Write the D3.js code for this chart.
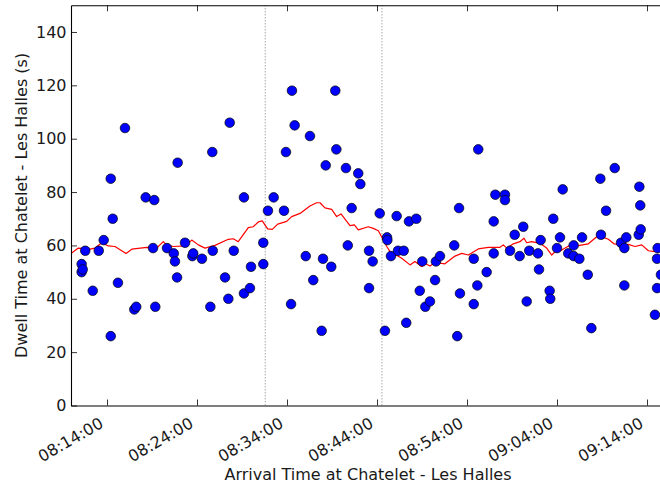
<!DOCTYPE html>
<html>
<head>
<meta charset="utf-8">
<script src="https://cdn.jsdelivr.net/npm/d3@7"></script>
<style>
  html, body { margin: 0; padding: 0; background: #fff; }
  svg { display: block; font-family: "DejaVu Sans", sans-serif; }
</style>
</head>
<body>
<svg id="chart" width="660" height="486"></svg>
<script>
// ---- data ----
const pointTimes = [
  "08:09:30","08:11:11","08:11:11","08:11:18","08:11:35","08:12:25","08:13:05","08:13:38","08:14:25","08:14:25",
  "08:14:38","08:15:13","08:16:00","08:17:02","08:17:15","08:18:18","08:19:07","08:19:15","08:19:22","08:20:40",
  "08:21:25","08:21:33","08:21:47","08:21:51","08:22:40","08:23:29","08:23:35","08:24:33","08:25:29","08:25:42",
  "08:25:45","08:27:07","08:27:29","08:27:38","08:28:05","08:29:13","08:29:13","08:29:53","08:30:00","08:31:22",
  "08:31:22","08:31:53","08:32:31","08:33:40","08:33:53","08:34:27","08:34:33","08:34:51","08:36:05","08:36:33",
  "08:36:55","08:37:51","08:38:00","08:38:18","08:38:55","08:39:22","08:39:29","08:40:33","08:40:45","08:41:11",
  "08:41:55","08:42:09","08:43:07","08:43:07","08:43:31","08:44:18","08:44:53","08:45:07","08:45:09","08:45:33",
  "08:46:11","08:46:20","08:46:58","08:47:15","08:47:33","08:48:22","08:48:45","08:49:02","08:49:22","08:49:53",
  "08:50:27","08:50:33","08:51:00","08:52:35","08:52:55","08:53:07","08:53:13","08:54:45","08:54:45","08:55:09",
  "08:55:15","08:56:11","08:56:58","08:56:58","08:57:09","08:58:13","08:58:13","08:58:47","08:59:18","08:59:51",
  "09:00:15","09:00:38","09:00:55","09:01:53","09:02:00","09:02:11","09:03:11","09:03:15","09:03:35","09:04:00",
  "09:04:20","09:04:38","09:05:15","09:05:51","09:05:51","09:06:29","09:06:47","09:07:25","09:07:49","09:08:49",
  "09:08:53","09:09:27","09:10:25","09:11:07","09:11:29","09:11:29","09:11:42","09:13:05","09:13:09","09:13:15",
  "09:13:18","09:14:53","09:15:07","09:15:07","09:15:11","09:15:33"
];
const dwellValues = [
  91,50,53,51,58,43,58,62,85,26,
  70,46,104,36,37,78,59,77,37,59,
  57,54,48,91,61,56,57,55,37,95,
  58,48,40,106,58,78,42,44,52,61,
  53,73,78,73,95,38,118,105,56,101,
  47,28,55,90,52,118,96,89,60,74,
  87,83,58,44,54,72,28,63,62,56,
  71,58,58,31,69,70,43,54,37,39,
  47,54,56,60,26,74,42,55,38,45,
  96,50,69,57,79,79,77,58,64,56,
  67,39,58,57,51,62,43,40,70,59,
  63,81,57,60,56,55,63,49,29,85,
  64,73,89,61,59,45,63,64,82,75,
  66,34,55,44,59,49
];
const rollTimes = [
  "08:10:00","08:10:49","08:12:07","08:12:40","08:13:25","08:14:09","08:14:53","08:16:07","08:16:45","08:18:25",
  "08:19:31","08:20:15","08:20:38","08:21:22","08:22:40","08:23:25","08:24:09","08:24:53","08:26:00","08:27:29",
  "08:28:02","08:28:35","08:29:42","08:30:15","08:30:49","08:31:15","08:31:51","08:32:22","08:32:58","08:33:58",
  "08:34:31","08:35:27","08:36:33","08:37:18","08:37:40","08:38:13","08:38:58","08:39:31","08:40:00","08:41:00",
  "08:41:29","08:41:55","08:43:02","08:43:35","08:44:09","08:45:05","08:45:27","08:46:45","08:47:40","08:48:13",
  "08:48:58","08:49:25","08:49:53","08:50:27","08:51:33","08:52:40","08:53:25","08:54:09","08:55:15","08:56:22",
  "08:57:40","08:58:02","08:58:25","08:59:09","08:59:53","09:00:20","09:00:38","09:01:11","09:02:07","09:02:51",
  "09:03:25","09:03:47","09:04:20","09:05:38","09:06:22","09:07:29","09:08:35","09:08:58","09:09:42","09:10:20",
  "09:11:00","09:11:55","09:12:40","09:13:25","09:14:09","09:14:53","09:15:27","09:16:00"
];
const rollValues = [
  57,59,58.6,59,61,59.8,59.6,57,58.6,59.3,
  59,61.4,60.2,59.6,59.8,62,60.2,59,60,62.3,
  62.5,61.4,66.7,67,68.8,69.2,66.2,66,68,69,
  70.8,72,74.8,76,76,74.1,73.5,70.8,71.8,67.4,
  67.7,65.8,67,66.4,65.5,59.6,57.7,55.2,52.7,54,
  52.1,53.1,52.3,53.6,53.1,56,57,56.4,58.7,59.3,
  59.3,60.2,59,60.6,61.4,62.7,61,61.4,60.8,59,
  56.4,57.7,57.9,60.4,59.9,60.6,63.7,63.3,62.3,60.6,
  60.3,60.4,59.6,60.2,58,57.7,59,59.5
];
const markerTimes = ["08:31:35", "08:44:33"];
const xTickTimes = ["08:14:00","08:24:00","08:34:00","08:44:00","08:54:00","09:04:00","09:14:00"];
const yTickValues = [0, 20, 40, 60, 80, 100, 120, 140];
const xDomainTimes = ["08:10:00", "09:16:00"];
const yDomain = [0, 150];
const xLabel = "Arrival Time at Chatelet - Les Halles";
const yLabel = "Dwell Time at Chatelet - Les Halles (s)";

// ---- drawing ----
const parse = d3.timeParse("%H:%M:%S");
const fmt = d3.timeFormat("%H:%M:%S");
const pLeft = 71, pRight = 665, pTop = 5.3, pBottom = 405.5;

const svg = d3.select("#chart");
const x = d3.scaleTime().domain(xDomainTimes.map(parse)).range([pLeft, pRight]);
const y = d3.scaleLinear().domain(yDomain).range([pBottom, pTop]);

svg.append("defs").append("clipPath").attr("id", "plotclip")
  .append("rect").attr("x", pLeft).attr("y", pTop)
  .attr("width", pRight - pLeft).attr("height", pBottom - pTop);

const plot = svg.append("g").attr("clip-path", "url(#plotclip)");

// dotted vertical markers
plot.selectAll("line.marker").data(markerTimes.map(parse)).enter().append("line")
  .attr("class", "marker")
  .attr("x1", d => x(d)).attr("x2", d => x(d))
  .attr("y1", pTop).attr("y2", pBottom)
  .attr("stroke", "#7f7f7f").attr("stroke-width", 1)
  .attr("stroke-dasharray", "1,2");

// rolling mean line
const rollData = rollTimes.map((t, i) => ({ t: parse(t), v: rollValues[i] }));
plot.append("path").datum(rollData)
  .attr("fill", "none").attr("stroke", "#ff0000").attr("stroke-width", 1.2)
  .attr("stroke-linejoin", "round")
  .attr("d", d3.line().x(d => x(d.t)).y(d => y(d.v)));

// scatter points
const pts = pointTimes.map((t, i) => ({ t: parse(t), v: dwellValues[i] }));
plot.selectAll("circle.pt").data(pts).enter().append("circle")
  .attr("class", "pt")
  .attr("cx", d => x(d.t)).attr("cy", d => y(d.v)).attr("r", 4.8)
  .attr("fill", "#0000ff").attr("stroke", "#000").attr("stroke-width", 0.7);

// axes
const fs = 16;
const xTicks = xTickTimes.map(parse);
const xAxis = svg.append("g").attr("transform", `translate(0,${pBottom})`)
  .call(d3.axisBottom(x).tickValues(xTicks).tickFormat(fmt).tickSizeInner(-6).tickSizeOuter(0));
xAxis.selectAll(".tick text")
  .attr("y", 0).attr("dy", 0)
  .attr("text-anchor", "end")
  .attr("transform", "translate(-3,21) rotate(-30)");

const xTop = svg.append("g").attr("transform", `translate(0,${pTop})`)
  .call(d3.axisTop(x).tickValues(xTicks).tickFormat("").tickSizeInner(-6).tickSizeOuter(0));

const yAxis = svg.append("g").attr("transform", `translate(${pLeft},0)`)
  .call(d3.axisLeft(y).tickValues(yTickValues).tickSizeInner(-6).tickSizeOuter(0).tickPadding(4.5));

[xAxis, xTop, yAxis].forEach(g => {
  g.selectAll(".domain").attr("stroke", "#000").attr("stroke-width", 1.1);
  g.selectAll(".tick line").attr("stroke", "#000").attr("stroke-width", 0.8);
  g.selectAll(".tick text").attr("fill", "#1a1a1a")
    .style("font-family", "'DejaVu Sans', sans-serif").style("font-size", fs + "px");
});

// axis labels
svg.append("text").attr("x", (pLeft + pRight) / 2).attr("y", 480)
  .attr("text-anchor", "middle").attr("fill", "#1a1a1a")
  .style("font-size", fs + "px").text(xLabel);
svg.append("text")
  .attr("transform", `translate(27,${(pTop + pBottom) / 2}) rotate(-90)`)
  .attr("text-anchor", "middle").attr("fill", "#1a1a1a")
  .style("font-size", fs + "px").text(yLabel);
</script>
</body>
</html>
